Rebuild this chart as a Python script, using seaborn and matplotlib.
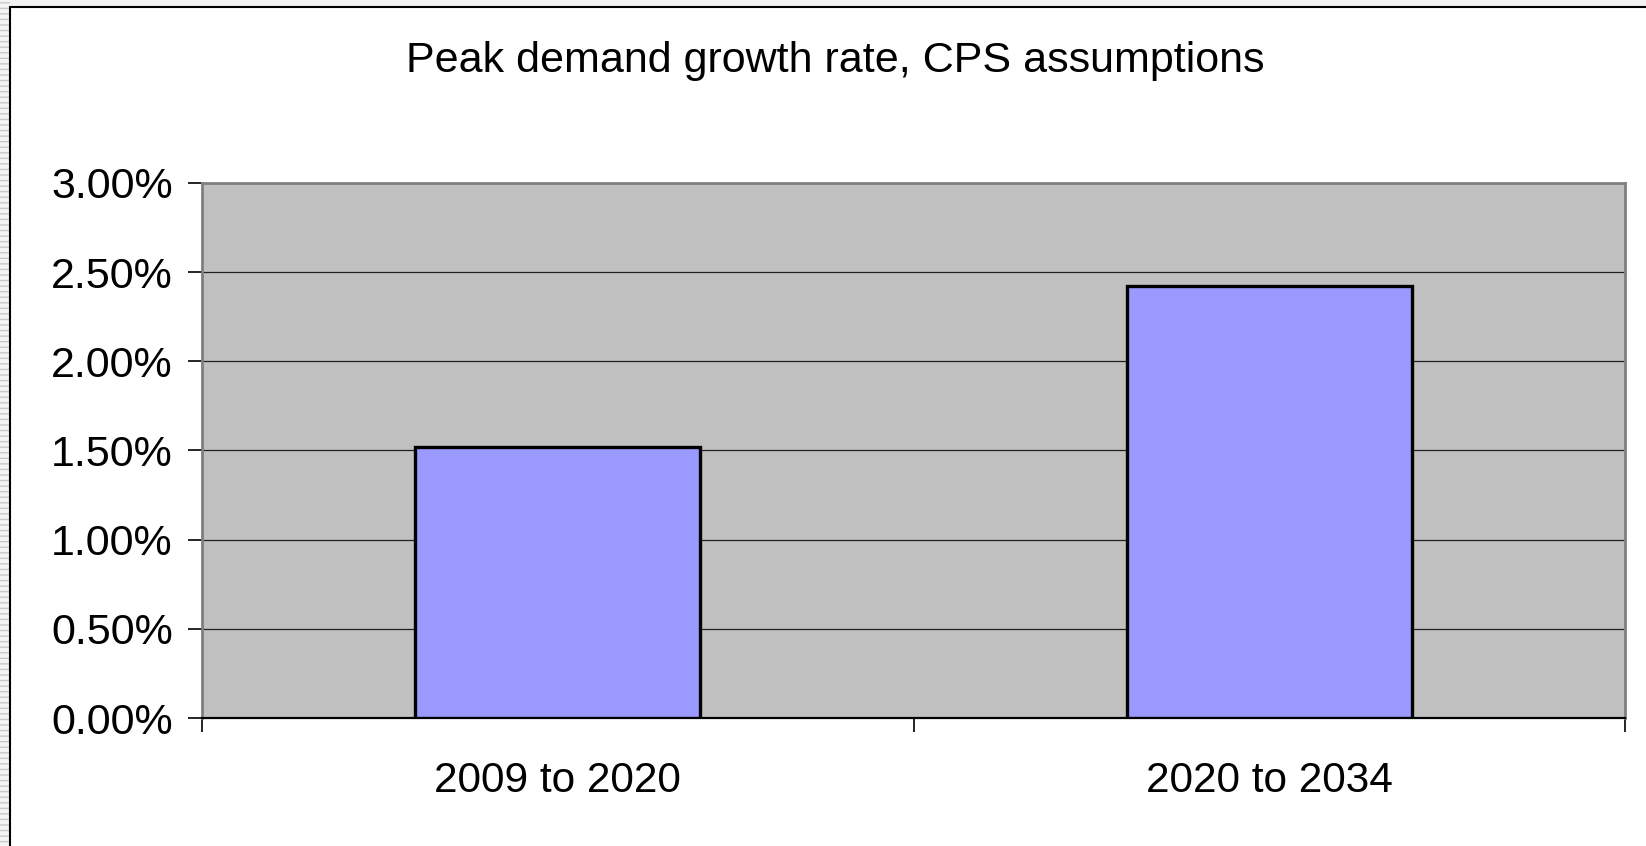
import matplotlib
matplotlib.use("Agg")
import matplotlib.pyplot as plt
import seaborn as sns
import pandas as pd
from matplotlib.ticker import FuncFormatter, FixedLocator
from matplotlib.patches import Rectangle
from matplotlib.lines import Line2D

categories = ["2009 to 2020", "2020 to 2034"]
growth_pct = [1.52, 2.42]
y_ticks = [0.0, 0.5, 1.0, 1.5, 2.0, 2.5, 3.0]
title = "Peak demand growth rate, CPS assumptions"

sns.set_theme(style="white")
plt.rcParams['font.family'] = ['Liberation Sans', 'DejaVu Sans']

fig = plt.figure(figsize=(16.46, 8.46), dpi=100)
fig.patch.set_facecolor("white")

W, H = 1646, 846
ax = fig.add_axes([202 / W, 1 - 718 / H, (1625 - 202) / W, (718 - 183) / H])
ax.set_facecolor("#C0C0C0")

df = pd.DataFrame({"period": categories, "growth": growth_pct})
sns.barplot(data=df, x="period", y="growth", color="#9999FF", saturation=1,
            width=0.4, edgecolor="black", linewidth=2.4, ax=ax, zorder=3)

ax.set_xlim(-0.5, 1.5)
ax.set_ylim(0, 3.0)
ax.set_yticks(y_ticks)
ax.yaxis.set_major_formatter(FuncFormatter(lambda v, p: f"{v:.2f}%"))
ax.yaxis.grid(True, color="#202020", linewidth=0.9, zorder=1)
ax.set_axisbelow(True)

# x ticks at category boundaries, labels at centers
ax.xaxis.set_major_locator(FixedLocator([-0.5, 0.5, 1.5]))
ax.xaxis.set_minor_locator(FixedLocator([0, 1]))
ax.set_xticklabels(["", "", ""])
ax.set_xticklabels(categories, minor=True)
ax.tick_params(axis="x", which="major", length=10, width=1.2, color="black", direction="out", bottom=True)
ax.tick_params(axis="x", which="minor", length=0, labelsize=30.5, pad=31, labelcolor="black")
ax.tick_params(axis="y", which="major", length=10, width=1.2, color="black", direction="out", left=True,
               labelsize=31, pad=11, labelcolor="black")
ax.set_xlabel("")
ax.set_ylabel("")

for side in ["top", "right", "left"]:
    ax.spines[side].set_color("#808080")
    ax.spines[side].set_linewidth(2.0)
ax.spines["bottom"].set_color("black")
ax.spines["bottom"].set_linewidth(1.6)

fig.text((410 + 1260) / 2 / W, 1 - 61 / H, title, ha="center", va="center",
         fontsize=31, color="black")

# outer frame decorations
fig.patches.append(Rectangle((0, 1 - 6 / H), 1, 6 / H, transform=fig.transFigure,
                             facecolor="#F2F2F2", edgecolor="none", zorder=0))
fig.patches.append(Rectangle((0, 0), 10 / W, 1, transform=fig.transFigure,
                             facecolor="#F4F4F4", edgecolor="#C8C8C8", hatch="---",
                             linewidth=0, zorder=0))
fig.lines.append(Line2D([10 / W, 1], [1 - 7 / H, 1 - 7 / H], transform=fig.transFigure,
                        color="black", linewidth=1.5))
fig.lines.append(Line2D([10 / W, 10 / W], [0, 1 - 7 / H], transform=fig.transFigure,
                        color="black", linewidth=1.5))

fig.savefig("out.png", dpi=100, facecolor="white")
